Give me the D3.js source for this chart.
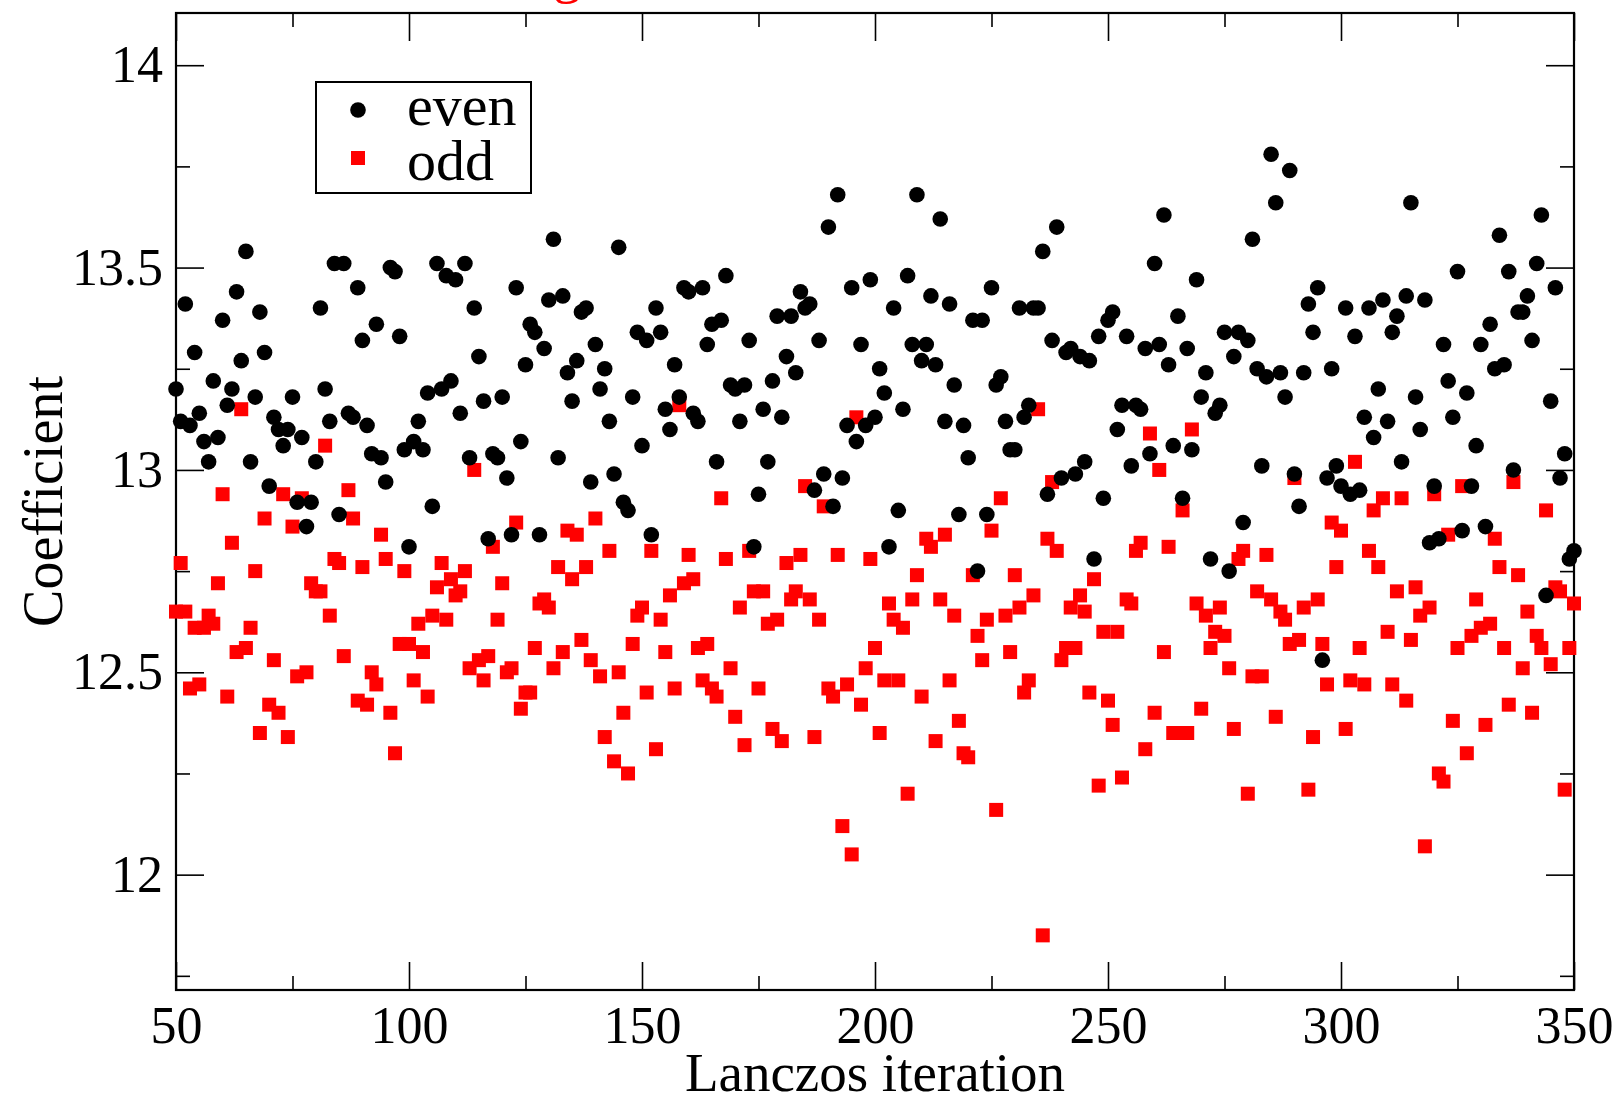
<!DOCTYPE html>
<html>
<head>
<meta charset="utf-8">
<script src="https://cdn.jsdelivr.net/npm/d3@7"></script>
<style>
  body { margin: 0; background: #fff; }
  svg text { font-family: "Liberation Serif", "Times New Roman", serif; fill: #000; }
</style>
</head>
<body>
<svg id="chart" width="1621" height="1101"></svg>
<script>
// Lanczos iterations 50..350, one value per iteration in each series
const iterations = d3.range(50, 351);

const evenValues = [
  13.20, 13.12, 13.41, 13.11, 13.29, 13.14, 13.07, 13.02, 13.22, 13.08,
  13.37, 13.16, 13.20, 13.44, 13.27, 13.54, 13.02, 13.18, 13.39, 13.29,
  12.96, 13.13, 13.10, 13.06, 13.10, 13.18, 12.92, 13.08, 12.86, 12.92,
  13.02, 13.40, 13.20, 13.12, 13.51, 12.89, 13.51, 13.14, 13.13, 13.45,
  13.32, 13.11, 13.04, 13.36, 13.03, 12.97, 13.50, 13.49, 13.33, 13.05,
  12.81, 13.07, 13.12, 13.05, 13.19, 12.91, 13.51, 13.20, 13.48, 13.22,
  13.47, 13.14, 13.51, 13.03, 13.40, 13.28, 13.17, 12.83, 13.04, 13.03,
  13.18, 12.98, 12.84, 13.45, 13.07, 13.26, 13.36, 13.34, 12.84, 13.30,
  13.42, 13.57, 13.03, 13.43, 13.24, 13.17, 13.27, 13.39, 13.40, 12.97,
  13.31, 13.20, 13.25, 13.12, 12.99, 13.55, 12.92, 12.90, 13.18, 13.34,
  13.06, 13.32, 12.84, 13.40, 13.34, 13.15, 13.10, 13.26, 13.18, 13.45,
  13.44, 13.14, 13.12, 13.45, 13.31, 13.36, 13.02, 13.37, 13.48, 13.21,
  13.20, 13.12, 13.21, 13.32, 12.81, 12.94, 13.15, 13.02, 13.22, 13.38,
  13.13, 13.28, 13.38, 13.24, 13.44, 13.40, 13.41, 12.95, 13.32, 12.99,
  13.60, 12.91, 13.68, 12.98, 13.11, 13.45, 13.07, 13.31, 13.11, 13.47,
  13.13, 13.25, 13.19, 12.81, 13.40, 12.90, 13.15, 13.48, 13.31, 13.68,
  13.27, 13.31, 13.43, 13.26, 13.62, 13.12, 13.41, 13.21, 12.89, 13.11,
  13.03, 13.37, 12.75, 13.37, 12.89, 13.45, 13.21, 13.23, 13.12, 13.05,
  13.05, 13.40, 13.13, 13.16, 13.40, 13.40, 13.54, 12.94, 13.32, 13.60,
  12.98, 13.29, 13.30, 12.99, 13.28, 13.02, 13.27, 12.78, 13.33, 12.93,
  13.37, 13.39, 13.10, 13.16, 13.33, 13.01, 13.16, 13.15, 13.30, 13.04,
  13.51, 13.31, 13.63, 13.26, 13.06, 13.38, 12.93, 13.30, 13.05, 13.47,
  13.18, 13.24, 12.78, 13.14, 13.16, 13.34, 12.75, 13.28, 13.34, 12.87,
  13.32, 13.57, 13.25, 13.01, 13.23, 13.78, 13.66, 13.24, 13.18, 13.74,
  12.99, 12.91, 13.24, 13.41, 13.34, 13.45, 12.53, 12.98, 13.25, 13.01,
  12.96, 13.40, 12.94, 13.33, 12.95, 13.13, 13.40, 13.08, 13.20, 13.42,
  13.12, 13.34, 13.38, 13.02, 13.43, 13.66, 13.18, 13.10, 13.42, 12.82,
  12.96, 12.83, 13.31, 13.22, 13.13, 13.49, 12.85, 13.19, 12.96, 13.06,
  13.31, 12.86, 13.36, 13.25, 13.58, 13.26, 13.49, 13.00, 13.39, 13.39,
  13.43, 13.32, 13.51, 13.63, 12.69, 13.17, 13.45, 12.98, 13.04, 12.78,
  12.80
];

const oddValues = [
  12.65, 12.77, 12.65, 12.46, 12.61, 12.47, 12.61, 12.64, 12.62, 12.72,
  12.94, 12.44, 12.82, 12.55, 13.15, 12.56, 12.61, 12.75, 12.35, 12.88,
  12.42, 12.53, 12.40, 12.94, 12.34, 12.86, 12.49, 12.93, 12.50, 12.72,
  12.70, 12.70, 13.06, 12.64, 12.78, 12.77, 12.54, 12.95, 12.88, 12.43,
  12.76, 12.42, 12.50, 12.47, 12.84, 12.78, 12.40, 12.30, 12.57, 12.75,
  12.57, 12.48, 12.62, 12.55, 12.44, 12.64, 12.71, 12.77, 12.63, 12.73,
  12.69, 12.70, 12.75, 12.51, 13.00, 12.53, 12.48, 12.54, 12.81, 12.63,
  12.72, 12.50, 12.51, 12.87, 12.41, 12.45, 12.45, 12.56, 12.67, 12.68,
  12.66, 12.51, 12.76, 12.55, 12.85, 12.73, 12.84, 12.58, 12.76, 12.53,
  12.88, 12.49, 12.34, 12.80, 12.28, 12.50, 12.40, 12.25, 12.57, 12.64,
  12.66, 12.45, 12.80, 12.31, 12.63, 12.55, 12.69, 12.46, 13.16, 12.72,
  12.79, 12.73, 12.56, 12.48, 12.57, 12.46, 12.44, 12.93, 12.78, 12.51,
  12.39, 12.66, 12.32, 12.80, 12.70, 12.46, 12.70, 12.62, 12.36, 12.63,
  12.33, 12.77, 12.68, 12.70, 12.79, 12.96, 12.68, 12.34, 12.63, 12.91,
  12.46, 12.44, 12.79, 12.12, 12.47, 12.05, 13.13, 12.42, 12.51, 12.78,
  12.56, 12.35, 12.48, 12.67, 12.63, 12.48, 12.61, 12.20, 12.68, 12.74,
  12.44, 12.83, 12.81, 12.33, 12.68, 12.84, 12.48, 12.64, 12.38, 12.30,
  12.29, 12.74, 12.59, 12.53, 12.63, 12.85, 12.16, 12.93, 12.64, 12.55,
  12.74, 12.66, 12.45, 12.48, 12.69, 13.15, 11.85, 12.83, 12.97, 12.80,
  12.53, 12.56, 12.66, 12.56, 12.69, 12.65, 12.45, 12.73, 12.22, 12.60,
  12.43, 12.37, 12.60, 12.24, 12.68, 12.67, 12.80, 12.82, 12.31, 13.09,
  12.40, 13.00, 12.55, 12.81, 12.35, 12.35, 12.90, 12.35, 13.10, 12.67,
  12.41, 12.64, 12.56, 12.60, 12.66, 12.59, 12.51, 12.36, 12.78, 12.80,
  12.20, 12.49, 12.70, 12.49, 12.79, 12.68, 12.39, 12.65, 12.63, 12.57,
  12.98, 12.58, 12.66, 12.21, 12.34, 12.68, 12.57, 12.47, 12.87, 12.76,
  12.85, 12.36, 12.48, 13.02, 12.56, 12.47, 12.80, 12.90, 12.76, 12.93,
  12.60, 12.47, 12.70, 12.93, 12.43, 12.58, 12.71, 12.64, 12.07, 12.66,
  12.94, 12.25, 12.23, 12.84, 12.38, 12.56, 12.96, 12.30, 12.59, 12.68,
  12.61, 12.37, 12.62, 12.83, 12.76, 12.56, 12.42, 12.97, 12.74, 12.51,
  12.65, 12.40, 12.59, 12.56, 12.90, 12.52, 12.71, 12.70, 12.21, 12.56,
  12.67
];

const seriesNames = ["even", "odd"];
const xMajorTicks = [50, 100, 150, 200, 250, 300, 350];
const xMinorTicks = [75, 125, 175, 225, 275, 325];
const yMajorTicks = [12, 12.5, 13, 13.5, 14];
const yMinorTicks = [11.75, 12.25, 12.75, 13.25, 13.75];
const xLabel = "Lanczos iteration";
const yLabel = "Coefficient";

const svg = d3.select("#chart");
svg.append("rect").attr("width", 1621).attr("height", 1101).attr("fill", "#fff");

const plot = {left: 176, right: 1574, top: 13, bottom: 990};

const x = d3.scaleLinear().domain([50, 350]).range([plot.left, plot.right]);
const y = d3.scaleLinear().domain([11.715, 14.129]).range([plot.bottom, plot.top]);

// cut-off red title at the very top
svg.append("text")
  .attr("x", 567).attr("y", -8)
  .attr("text-anchor", "middle")
  .style("font-size", "56px")
  .style("fill", "#ff0000")
  .text("g");

// axes: ticks point inward, on all four sides
const tickFont = "52px";
const majorLen = 28, minorLen = 14;

svg.append("g").attr("transform", `translate(0,${plot.bottom})`)
  .call(d3.axisBottom(x).tickValues(xMajorTicks).tickSize(-majorLen).tickPadding(16).tickFormat(d3.format("d")));
svg.append("g").attr("transform", `translate(0,${plot.bottom})`)
  .call(d3.axisBottom(x).tickValues(xMinorTicks).tickSize(-minorLen).tickFormat(""));
svg.append("g").attr("transform", `translate(0,${plot.top})`)
  .call(d3.axisTop(x).tickValues(xMajorTicks).tickSize(-majorLen).tickFormat(""));
svg.append("g").attr("transform", `translate(0,${plot.top})`)
  .call(d3.axisTop(x).tickValues(xMinorTicks).tickSize(-minorLen).tickFormat(""));

svg.append("g").attr("transform", `translate(${plot.left},0)`)
  .call(d3.axisLeft(y).tickValues(yMajorTicks).tickSize(-majorLen).tickPadding(13).tickFormat(d => d));
svg.append("g").attr("transform", `translate(${plot.left},0)`)
  .call(d3.axisLeft(y).tickValues(yMinorTicks).tickSize(-minorLen).tickFormat(""));
svg.append("g").attr("transform", `translate(${plot.right},0)`)
  .call(d3.axisRight(y).tickValues(yMajorTicks).tickSize(-majorLen).tickFormat(""));
svg.append("g").attr("transform", `translate(${plot.right},0)`)
  .call(d3.axisRight(y).tickValues(yMinorTicks).tickSize(-minorLen).tickFormat(""));

svg.selectAll(".domain").remove();
svg.selectAll(".tick line").attr("stroke", "#000").attr("stroke-width", 1.6);
svg.selectAll(".tick text").style("font-size", tickFont).attr("fill", "#000");

// frame
svg.append("rect")
  .attr("x", plot.left).attr("y", plot.top)
  .attr("width", plot.right - plot.left).attr("height", plot.bottom - plot.top)
  .attr("fill", "none").attr("stroke", "#000").attr("stroke-width", 2.2);

// axis titles
svg.append("text")
  .attr("x", (plot.left + plot.right) / 2).attr("y", 1091)
  .attr("text-anchor", "middle")
  .style("font-size", "55px")
  .text(xLabel);

svg.append("text")
  .attr("transform", `translate(62,${(plot.top + plot.bottom) / 2}) rotate(-90)`)
  .attr("text-anchor", "middle")
  .style("font-size", "56px")
  .text(yLabel);

// data
const evenPoints = iterations.map((it, i) => ({it: it, v: evenValues[i]}));
const oddPoints = iterations.map((it, i) => ({it: it, v: oddValues[i]}));

const sq = 14;
svg.append("g").selectAll("rect")
  .data(oddPoints)
  .enter()
  .append("rect")
  .attr("x", d => x(d.it) - sq / 2)
  .attr("y", d => y(d.v) - sq / 2)
  .attr("width", sq).attr("height", sq)
  .attr("fill", "#ff0000");

svg.append("g").selectAll("circle")
  .data(evenPoints)
  .enter()
  .append("circle")
  .attr("cx", d => x(d.it))
  .attr("cy", d => y(d.v))
  .attr("r", 7.8)
  .attr("fill", "#000");

// legend
const legend = svg.append("g");
legend.append("rect")
  .attr("x", 316).attr("y", 82).attr("width", 215).attr("height", 111)
  .attr("fill", "#fff").attr("stroke", "#000").attr("stroke-width", 2);
legend.append("circle").attr("cx", 358).attr("cy", 110).attr("r", 7.8).attr("fill", "#000");
legend.append("rect").attr("x", 358 - sq / 2).attr("y", 158 - sq / 2)
  .attr("width", sq).attr("height", sq).attr("fill", "#ff0000");
legend.selectAll("text.lg")
  .data(seriesNames)
  .enter()
  .append("text")
  .attr("class", "lg")
  .attr("x", 407)
  .attr("y", (d, i) => i === 0 ? 125 : 180)
  .style("font-size", "58px")
  .text(d => d);
</script>
</body>
</html>
